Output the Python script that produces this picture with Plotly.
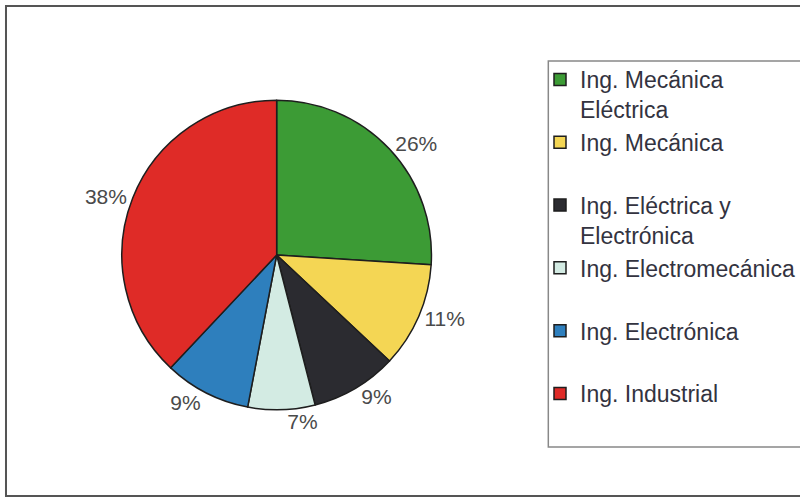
import plotly.graph_objects as go

labels = ["Ing. Mecánica Eléctrica", "Ing. Mecánica", "Ing. Eléctrica y Electrónica",
          "Ing. Electromecánica", "Ing. Electrónica", "Ing. Industrial"]
legend_names = ["Ing. Mecánica<br>Eléctrica", "Ing. Mecánica<br> ", "Ing. Eléctrica y<br>Electrónica",
                "Ing. Electromecánica<br> ", "Ing. Electrónica<br> ", "Ing. Industrial<br> "]
values = [26, 11, 9, 7, 9, 38]
colors = ["#3c9b35", "#f4d654", "#2b2b30", "#d3ebe3", "#2e7fbd", "#df2b27"]

W, H = 800, 499

fig = go.Figure(go.Pie(
    labels=legend_names,
    values=values,
    sort=False,
    direction="clockwise",
    rotation=0,
    marker=dict(colors=colors, line=dict(color="#1e1e1e", width=1.5)),
    texttemplate="%{percent:.0%}",
    textposition="outside",
    outsidetextfont=dict(family="Liberation Sans, Arial, sans-serif", size=21, color="#4a4a4a"),
    domain=dict(x=[122 / W, 432 / W], y=[1 - 410 / H, 1 - 100 / H]),
    hole=0,
    showlegend=True,
))

fig.update_layout(
    width=W, height=H,
    margin=dict(l=0, r=0, t=0, b=0),
    paper_bgcolor="white",
    plot_bgcolor="white",
    font=dict(family="Liberation Sans, Arial, sans-serif", color="#333340"),
    legend=dict(
        x=541 / W, xanchor="left",
        y=1 - 58 / H, yanchor="top",
        valign="top",
        bgcolor="rgba(0,0,0,0)",
        borderwidth=0,
        font=dict(size=23, color="#333340"),
        tracegroupgap=0,
    ),
    shapes=[
        dict(type="rect", xref="paper", yref="paper",
             x0=6 / W, x1=1.02, y0=1 - 496 / H, y1=1 - 6 / H,
             line=dict(color="#555555", width=2), fillcolor="rgba(0,0,0,0)", layer="above"),
        dict(type="rect", xref="paper", yref="paper",
             x0=549 / W, x1=1.02, y0=1 - 447 / H, y1=1 - 61 / H,
             line=dict(color="#888888", width=1.5), fillcolor="rgba(0,0,0,0)", layer="above"),
    ],
)

fig.write_html("out.html")
